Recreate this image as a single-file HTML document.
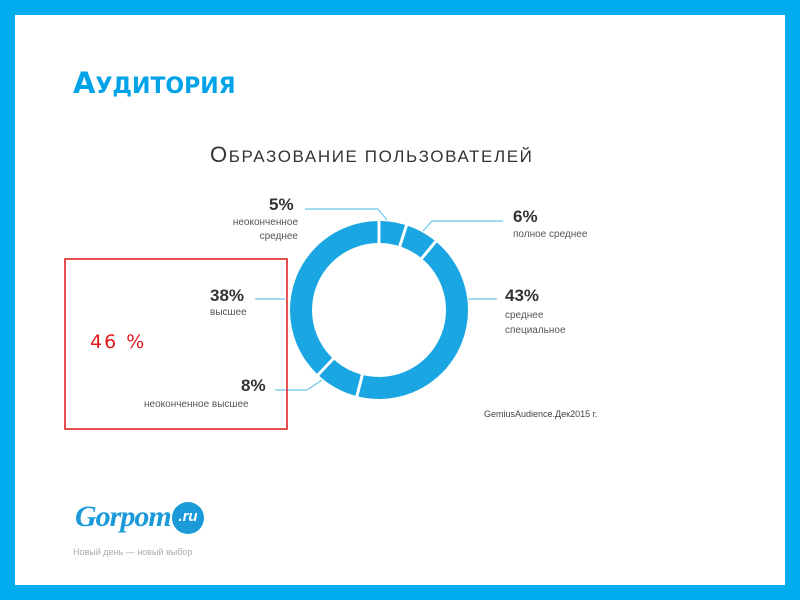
<!DOCTYPE html>
<html><head><meta charset="utf-8"><style>
body{margin:0;width:800px;height:600px;background:#00aeef;position:relative;overflow:hidden;font-family:"Liberation Sans","DejaVu Sans",sans-serif}
.in{position:absolute;left:15px;top:15px;width:770px;height:570px;background:#fff}
.t{position:absolute;color:#00a3e8;font-weight:bold;font-family:"DejaVu Sans",sans-serif;white-space:nowrap}
.g{position:absolute;color:#555;white-space:nowrap}
.p{position:absolute;color:#333;font-size:17px;font-weight:bold;white-space:nowrap}
</style></head><body>
<div class="in"></div>
<div class="t" style="left:73px;top:68px;font-size:29px;line-height:30px">А<span style="font-size:22px">УДИТОРИЯ</span></div>
<div class="g" style="left:210px;top:142px;font-size:22px;color:#333;letter-spacing:1.6px">О<span style="font-size:17px">БРАЗОВАНИЕ ПОЛЬЗОВАТЕЛЕЙ</span></div>
<svg style="position:absolute;left:0;top:0" width="800" height="600">
<circle cx="379" cy="310" r="78" fill="none" stroke="#1aa6e2" stroke-width="22"/>
<g stroke="#fff" stroke-width="3">
<line x1="379" y1="310" x2="379" y2="215" transform="rotate(0 379 310)"/>
<line x1="379" y1="310" x2="379" y2="215" transform="rotate(18 379 310)"/>
<line x1="379" y1="310" x2="379" y2="215" transform="rotate(39.6 379 310)"/>
<line x1="379" y1="310" x2="379" y2="215" transform="rotate(194.4 379 310)"/>
<line x1="379" y1="310" x2="379" y2="215" transform="rotate(223.2 379 310)"/>
</g>
<g stroke="#6cc8ee" stroke-width="1.2" fill="none">
<polyline points="305,209 378,209 387,220"/>
<polyline points="503,221 432,221 423,231"/>
<line x1="468" y1="299" x2="497" y2="299"/>
<line x1="255" y1="299" x2="285" y2="299"/>
<polyline points="275,390 307,390 322,380"/>
</g>
<rect x="65" y="259" width="222" height="170" fill="none" stroke="#e0191b" stroke-width="1.5"/>
</svg>
<div class="p" style="left:269px;top:195px">5%</div>
<div class="g" style="left:218px;top:216px;font-size:10px;text-align:right;line-height:14px;width:80px">неоконченное<br>среднее</div>
<div class="p" style="left:513px;top:207px">6%</div>
<div class="g" style="left:513px;top:229px;font-size:10px">полное среднее</div>
<div class="p" style="left:505px;top:286px">43%</div>
<div class="g" style="left:505px;top:308px;font-size:10px;line-height:15px">среднее<br>специальное</div>
<div class="p" style="left:210px;top:286px">38%</div>
<div class="g" style="left:210px;top:307px;font-size:10px">высшее</div>
<div class="p" style="left:241px;top:376px">8%</div>
<div class="g" style="left:144px;top:399px;font-size:10px">неоконченное высшее</div>
<div class="g" style="left:484px;top:409px;font-size:9px;color:#444">GemiusAudience.Дек2015 г.</div>
<div style="position:absolute;left:90px;top:331px;color:#e0191b;font-size:19px;letter-spacing:2px;font-family:'DejaVu Sans',sans-serif">46 %</div>
<div style="position:absolute;left:75px;top:500px;color:#1a9ad9;font-size:30px;font-style:italic;font-family:'Liberation Serif',serif;font-weight:bold;letter-spacing:-1px">Gorpom</div>
<div style="position:absolute;left:172px;top:502px;width:32px;height:32px;border-radius:50%;background:#1a9ad9;color:#fff;font-size:15px;font-weight:bold;font-style:italic;text-align:center;line-height:30px">.ru</div>
<div class="g" style="left:73px;top:547px;font-size:9px;color:#aaa">Новый день — новый выбор</div>
</body></html>
